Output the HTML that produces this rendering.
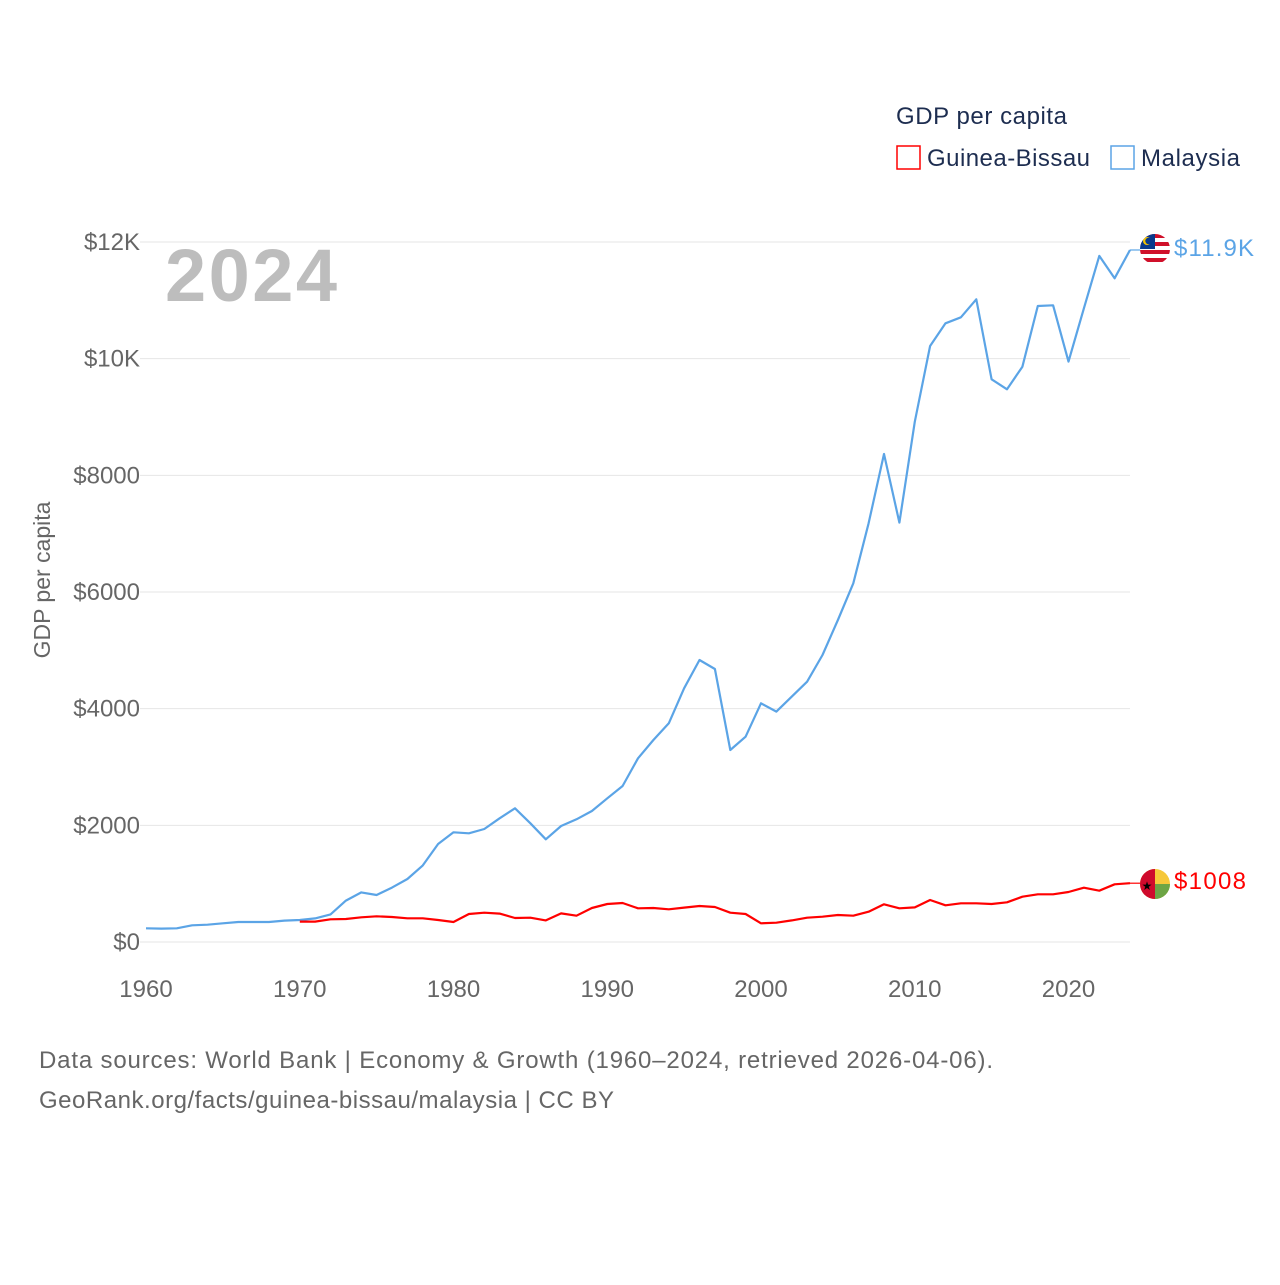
<!DOCTYPE html>
<html><head><meta charset="utf-8"><style>
body{margin:0;background:#fff;}
svg text{font-family:"Liberation Sans",sans-serif;}
</style></head><body>
<svg id="chart" width="1280" height="1280" xmlns="http://www.w3.org/2000/svg">
<rect width="1280" height="1280" fill="#fff"/>
<g id="grid"></g>
<g id="yticks"></g>
<g id="xticks"></g>
<text x="165" y="301" font-size="74" font-weight="bold" fill="#bdbdbd" textLength="172">2024</text>
<text transform="translate(50,580) rotate(-90)" text-anchor="middle" font-size="23" fill="#666">GDP per capita</text>
<text x="896" y="124" font-size="24" fill="#1d2d50" textLength="171">GDP per capita</text>
<g>
<rect x="897" y="146" width="23" height="23" fill="none" stroke="#f00" stroke-width="1.5"/>
<text x="927" y="166" font-size="24" fill="#1d2d50" textLength="163">Guinea-Bissau</text></g>
<g>
<rect x="1111" y="146" width="23" height="23" fill="none" stroke="#5ba4e6" stroke-width="1.5"/>
<text x="1141" y="166" font-size="24" fill="#1d2d50" textLength="99">Malaysia</text></g>
<g id="series"></g>
<defs>
<clipPath id="c1"><circle cx="1155" cy="249" r="15"/></clipPath>
<clipPath id="c2"><circle cx="1155" cy="884" r="15"/></clipPath>
</defs>
<g clip-path="url(#c1)">
<rect x="1140" y="234" width="30" height="30" fill="#fff"/>
<rect x="1140" y="234" width="30" height="4" fill="#d0102a"/>
<rect x="1140" y="242" width="30" height="4" fill="#d0102a"/>
<rect x="1140" y="250" width="30" height="4" fill="#d0102a"/>
<rect x="1140" y="258" width="30" height="4" fill="#d0102a"/>
<rect x="1140" y="234" width="15" height="15" fill="#0a3a8c"/>
<circle cx="1147" cy="241" r="4" fill="#f5c400"/><circle cx="1148.5" cy="241" r="3.2" fill="#0a3a8c"/>
</g>
<g clip-path="url(#c2)">
<rect x="1140" y="869" width="30" height="30" fill="#f6c83a"/>
<rect x="1155" y="884" width="15" height="15" fill="#6da545"/>
<rect x="1140" y="869" width="15" height="30" fill="#cf0a2c"/>
<text x="1147" y="890" font-size="12" text-anchor="middle" fill="#000">★</text>
</g>
<text x="1174" y="256" font-size="24" fill="#5ba4e6" textLength="80">$11.9K</text>
<text x="1174" y="889" font-size="24" fill="#f00" textLength="72">$1008</text>
<text x="39" y="1068" font-size="24" fill="#666" textLength="954">Data sources: World Bank | Economy &amp; Growth (1960–2024, retrieved 2026-04-06).</text>
<text x="39" y="1108" font-size="24" fill="#666" textLength="575">GeoRank.org/facts/guinea-bissau/malaysia | CC BY</text>
</svg>
<script>
const years=[];for(let y=1960;y<=2024;y++)years.push(y);
const malaysia=[235,230,235,286,297,320,343,343,343,366,377,405,474,709,851,805,932,1080,1314,1680,1880,1863,1937,2120,2292,2035,1760,1989,2103,2246,2463,2674,3149,3463,3749,4349,4834,4680,3292,3520,4092,3949,4206,4463,4920,5520,6149,7178,8366,7189,8920,10218,10606,10709,11018,9647,9475,9863,10903,10915,9949,10864,11761,11378,11863];
const gbYears=[];for(let y=1970;y<=2024;y++)gbYears.push(y);
const guinea=[349,349,389,394,423,440,429,406,406,377,343,480,503,486,411,417,371,491,451,583,651,669,577,583,560,589,617,600,503,480,320,331,371,417,434,463,451,520,646,577,594,720,629,663,663,651,680,777,817,817,857,931,880,989,1008];
const yTicks=[0,2000,4000,6000,8000,10000,12000];
const yTickLabels=["$0","$2000","$4000","$6000","$8000","$10K","$12K"];
const xTicks=[1960,1970,1980,1990,2000,2010,2020];
const NS="http://www.w3.org/2000/svg";
const X=y=>146+(y-1960)*(1130-146)/64;
const Y=v=>942-v*700/12000;
function mk(t,a,p){const e=document.createElementNS(NS,t);for(const k in a)e.setAttribute(k,a[k]);p.appendChild(e);return e;}
const grid=document.getElementById('grid'),yt=document.getElementById('yticks'),xt=document.getElementById('xticks'),ser=document.getElementById('series');
yTicks.forEach((v,i)=>{
 const l=mk('line',{x1:140,x2:1130,y1:Y(v),y2:Y(v),stroke:'#e6e6e6','stroke-width':1},grid);
 
 
 const t=mk('text',{x:140,y:Y(v)+8,'text-anchor':'end','font-size':24,fill:'#666'},yt);
 t.textContent=yTickLabels[i];
 
 
});
xTicks.forEach(v=>{
 const t=mk('text',{x:X(v),y:997,'text-anchor':'middle','font-size':24,fill:'#666'},xt);
 t.textContent=v;
 
 
});
function line(xs,vs,color,name){
 const d=vs.map((v,i)=>(i?'L':'M')+X(xs[i]).toFixed(1)+' '+Y(v).toFixed(1)).join(' ');
 const p=mk('path',{d:d,fill:'none',stroke:color,'stroke-width':2.2,'stroke-linejoin':'round'},ser);
 
 
 const last=vs[vs.length-1];
 const c=mk('line',{x1:X(xs[xs.length-1]),y1:Y(last),x2:1141,y2:Y(last),stroke:color,'stroke-width':1.2},ser);
 
 
}
line(years,malaysia,'#5ba4e6','malaysia-line');
line(gbYears,guinea,'#f00','guinea-bissau-line');
</script>
</body></html>
